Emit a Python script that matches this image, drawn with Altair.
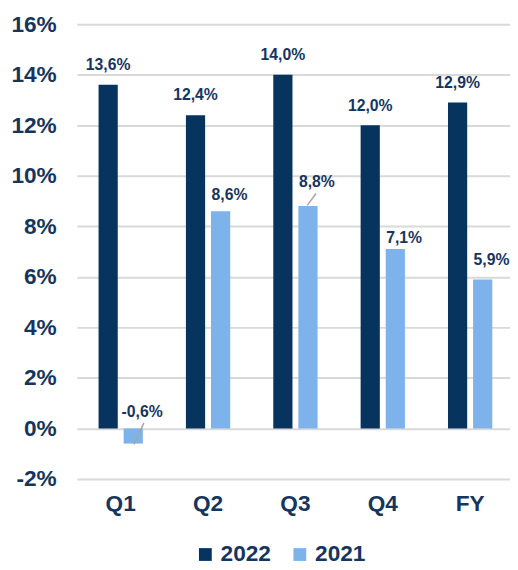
import altair as alt
import pandas as pd

# ---- data ----
quarters = ["Q1", "Q2", "Q3", "Q4", "FY"]
series = ["2022", "2021"]
values_2022 = [13.6, 12.4, 14.0, 12.0, 12.9]
values_2021 = [-0.6, 8.6, 8.8, 7.1, 5.9]
# anchor (in % units) of the 2021 data labels
label_y_2021 = [0.65, 9.24, 9.75, 7.55, 6.65]
# leader lines for two 2021 labels (from / to, in % units)
leader_q = ["Q1", "Q3"]
leader_from = [0.22, 8.83]
leader_to = [-0.63, 9.30]
y_ticks = [-2, 0, 2, 4, 6, 8, 10, 12, 14, 16]


def fmt(v):
    return f"{v:.1f}".replace(".", ",") + "%"


rows = []
for q, v in zip(quarters, values_2022):
    rows.append(dict(quarter=q, series="2022", value=v, label=fmt(v), label_y=None))
for q, v, ly in zip(quarters, values_2021, label_y_2021):
    rows.append(dict(quarter=q, series="2021", value=v, label=fmt(v), label_y=ly))
df = pd.DataFrame(rows)
lead = pd.DataFrame({"quarter": leader_q, "y1": leader_from, "y2": leader_to})

NAVY = "#07335F"
LIGHT = "#7DB3EA"
TEXT = "#15355F"
GRID = "#D9D9D9"
LEAD = "#A6A6A6"
FONT = "Liberation Sans"

x_enc = alt.X(
    "quarter:N",
    sort=quarters,
    scale=alt.Scale(paddingInner=0.493, paddingOuter=0.2254, align=0.55),
    axis=alt.Axis(
        title=None, labelAngle=0, ticks=False, domain=False, grid=False,
        labelFont=FONT, labelFontSize=23, labelFontWeight="bold",
        labelColor=TEXT, labelPadding=14,
    ),
)
xo_enc = alt.XOffset("series:N", sort=series,
                     scale=alt.Scale(paddingInner=0.235, paddingOuter=0))
y_enc = alt.Y(
    "value:Q",
    scale=alt.Scale(domain=[-2, 16], nice=False, zero=False),
    axis=alt.Axis(
        title=None, values=y_ticks, labelExpr="datum.value + '%'",
        grid=True, gridColor=GRID, gridWidth=2, domain=False, ticks=False,
        labelFont=FONT, labelFontSize=23, labelFontWeight="bold",
        labelColor=TEXT, labelPadding=21,
    ),
)
color_enc = alt.Color(
    "series:N",
    sort=series,
    scale=alt.Scale(domain=series, range=[NAVY, LIGHT]),
    legend=alt.Legend(
        title=None, orient="none", legendX=119, legendY=527,
        direction="horizontal", symbolType="square", symbolSize=169,
        symbolStrokeWidth=0, labelFont=FONT, labelFontSize=23,
        labelFontWeight="bold", labelColor=TEXT, labelOffset=4,
        columnPadding=17, padding=0,
    ),
)

bars = alt.Chart(df).mark_bar().encode(x=x_enc, xOffset=xo_enc, y=y_enc, color=color_enc)

lab22 = (
    alt.Chart(df)
    .transform_filter("datum.series == '2022'")
    .mark_text(dy=-20, font=FONT, fontSize=16, fontWeight="bold", color=TEXT, baseline="middle")
    .encode(x=alt.X("quarter:N", sort=quarters), xOffset=alt.XOffset("series:N", sort=series),
            y=alt.Y("value:Q"), text="label:N")
)
lab21 = (
    alt.Chart(df)
    .transform_filter("datum.series == '2021'")
    .mark_text(dx=9, font=FONT, fontSize=16, fontWeight="bold", color=TEXT, baseline="middle")
    .encode(x=alt.X("quarter:N", sort=quarters), xOffset=alt.XOffset("series:N", sort=series),
            y=alt.Y("label_y:Q"), text="label:N")
)
lead_q1 = (
    alt.Chart(lead)
    .transform_filter("datum.quarter == 'Q1'")
    .mark_rule(color=LEAD, strokeWidth=1.5, xOffset=23.5, x2Offset=13.5)
    .encode(x=alt.X("quarter:N", sort=quarters), x2=alt.X2("quarter"),
            y=alt.Y("y1:Q"), y2=alt.Y2("y2"))
)
lead_q3 = (
    alt.Chart(lead)
    .transform_filter("datum.quarter == 'Q3'")
    .mark_rule(color=LEAD, strokeWidth=1.5, xOffset=12, x2Offset=21)
    .encode(x=alt.X("quarter:N", sort=quarters), x2=alt.X2("quarter"),
            y=alt.Y("y1:Q"), y2=alt.Y2("y2"))
)

chart = (
    alt.layer(bars, lead_q1, lead_q3, lab22, lab21)
    .properties(
        width=440, height=462,
        autosize=alt.AutoSizeParams(type="none"),
        padding={"left": 70, "top": 12, "right": 0, "bottom": 88},
    )
    .configure_view(stroke=None)
)

chart.save("out.html", embed_options={"renderer": "svg", "actions": False})
